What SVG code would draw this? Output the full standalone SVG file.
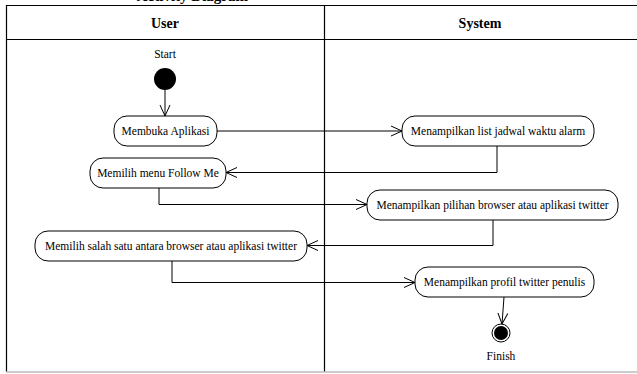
<svg xmlns="http://www.w3.org/2000/svg" width="637" height="374" viewBox="0 0 637 374">
<style>
text{font-family:"Liberation Serif","Times New Roman",serif;fill:#000}
.lbl{font-size:11.5px;text-anchor:middle}
.hdr{font-size:14px;font-weight:bold;text-anchor:middle}
.act{fill:#fff;stroke:#000;stroke-width:1}
.edge{fill:none;stroke:#000;stroke-width:1}
.frame{fill:none;stroke:#000;stroke-width:1.2}
</style>
<defs>
<marker id="arr" viewBox="0 0 12 12" refX="11" refY="6" markerWidth="12" markerHeight="12" markerUnits="userSpaceOnUse" orient="auto">
<path d="M0,1 L11,6 L0,11" fill="none" stroke="#000" stroke-width="1"/>
</marker>
</defs>
<rect width="637" height="374" fill="#fff"/>
<text x="248" y="0.5" font-family="Liberation Serif, serif" font-size="15" font-weight="bold" text-anchor="end">Activity Diagram</text>
<g id="frame">
<line class="frame" x1="6" y1="5.5" x2="637" y2="5.5"/>
<line class="frame" x1="6" y1="39.5" x2="637" y2="39.5" stroke="#444"/>
<line class="frame" x1="6.5" y1="5" x2="6.5" y2="372"/>
<line class="frame" x1="324.5" y1="5" x2="324.5" y2="372"/>
<line x1="6" y1="372" x2="637" y2="372" stroke="#bbb" stroke-width="1.5"/>
<text class="hdr" x="165" y="28" font-family="Liberation Serif, serif">User</text>
<text class="hdr" x="480" y="28" font-family="Liberation Serif, serif">System</text>
</g>
<g id="connectors">
<line class="edge" x1="165" y1="90" x2="165" y2="116" marker-end="url(#arr)"/>
<line class="edge" x1="217" y1="131" x2="402" y2="131" marker-end="url(#arr)"/>
<polyline class="edge" points="497,146 497,172.5 226,172.5" marker-end="url(#arr)"/>
<polyline class="edge" points="159,188 159,204.5 367,204.5" marker-end="url(#arr)"/>
<polyline class="edge" points="493,220 493,245.5 307,245.5" marker-end="url(#arr)"/>
<polyline class="edge" points="172,261 172,282.5 415,282.5" marker-end="url(#arr)"/>
<line class="edge" x1="504" y1="297" x2="502" y2="324" marker-end="url(#arr)"/>
</g>
<g id="start">
<text class="lbl" x="165" y="58" font-family="Liberation Serif, serif">Start</text>
<circle cx="165" cy="79" r="11" fill="#000"/>
</g>
<g id="membuka">
<rect class="act" x="114" y="116" width="103" height="30" rx="13"/>
<text class="lbl" x="165.5" y="135" font-family="Liberation Serif, serif">Membuka Aplikasi</text>
</g>
<g id="list">
<rect class="act" x="402" y="116" width="192" height="30" rx="13"/>
<text class="lbl" x="498" y="135" font-family="Liberation Serif, serif">Menampilkan list jadwal waktu alarm</text>
</g>
<g id="followme">
<rect class="act" x="90" y="158" width="136" height="30" rx="13"/>
<text class="lbl" x="158" y="177" font-family="Liberation Serif, serif">Memilih menu Follow Me</text>
</g>
<g id="pilihan">
<rect class="act" x="367" y="190" width="251" height="30" rx="13"/>
<text class="lbl" x="492.5" y="209" font-family="Liberation Serif, serif">Menampilkan pilihan browser atau aplikasi twitter</text>
</g>
<g id="salahsatu">
<rect class="act" x="35" y="231" width="272" height="30" rx="13"/>
<text class="lbl" x="171" y="250" font-family="Liberation Serif, serif">Memilih salah satu antara browser atau aplikasi twitter</text>
</g>
<g id="profil">
<rect class="act" x="415" y="267" width="179" height="30" rx="13"/>
<text class="lbl" x="504.5" y="286" font-family="Liberation Serif, serif">Menampilkan profil twitter penulis</text>
</g>
<g id="finish">
<circle cx="501" cy="333" r="9" fill="#fff" stroke="#000" stroke-width="1"/>
<circle cx="501" cy="333" r="7" fill="#000"/>
<text class="lbl" x="501" y="360" font-family="Liberation Serif, serif">Finish</text>
</g>
</svg>
